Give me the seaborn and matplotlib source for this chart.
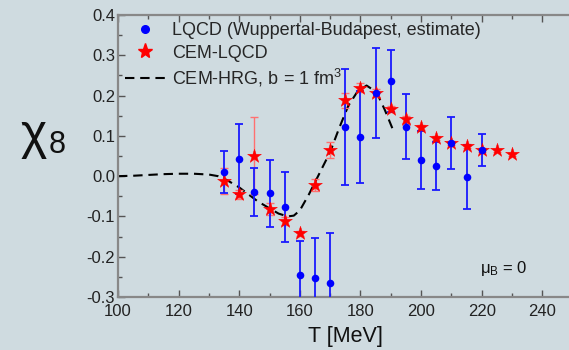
import numpy as np
import pandas as pd
import seaborn as sns
import matplotlib.pyplot as plt
from matplotlib.lines import Line2D
from matplotlib.ticker import MultipleLocator

# LQCD (Wuppertal-Budapest, estimate)
lqcd_T = [135, 140, 145, 150, 155, 160, 165, 170, 175, 180, 185, 190, 195, 200, 205, 210, 215, 220]
lqcd_chi8 = [0.010, 0.043, -0.040, -0.042, -0.076, -0.245, -0.252, -0.264, 0.122, 0.097, 0.206, 0.237,
             0.123, 0.040, 0.025, 0.082, -0.002, 0.064]
lqcd_err = [0.052, 0.087, 0.060, 0.083, 0.087, 0.085, 0.098, 0.124, 0.145, 0.114, 0.112, 0.077,
            0.080, 0.071, 0.060, 0.064, 0.080, 0.040]

# CEM-LQCD
cem_T = [135, 140, 145, 150, 155, 160, 165, 170, 175, 180, 185, 190, 195, 200, 205, 210, 215, 220, 225, 230]
cem_chi8 = [-0.012, -0.045, 0.051, -0.081, -0.112, -0.142, -0.022, 0.065, 0.188, 0.220, 0.206, 0.167,
            0.141, 0.121, 0.095, 0.082, 0.075, 0.064, 0.064, 0.054]
cem_err = [0.032, 0.011, 0.095, 0.015, 0.010, 0.006, 0.015, 0.019, 0.019, 0.010, 0.010, 0.008,
           0.008, 0.006, 0.005, 0.005, 0.005, 0.005, 0.003, 0.003]

# CEM-HRG, b = 1 fm^3
hrg_T = [100, 105, 110, 115, 120, 125, 130, 133, 136, 140, 143, 146, 150, 153, 156, 158, 160, 163,
         166, 170, 173, 176, 179, 182, 184, 186, 188, 191]
hrg_chi8 = [0.0, 0.001, 0.003, 0.005, 0.006, 0.006, 0.004, 0.0, -0.010, -0.028, -0.045, -0.062, -0.080,
            -0.093, -0.100, -0.098, -0.085, -0.045, 0.0, 0.060, 0.120, 0.175, 0.210, 0.225, 0.215,
            0.197, 0.165, 0.110]

bg = '#cfdbe0'
sns.set_theme(style='ticks', rc={'figure.facecolor': bg, 'axes.facecolor': bg})
plt.rcParams['font.family'] = ['Liberation Sans', 'DejaVu Sans']
plt.rcParams['mathtext.fontset'] = 'custom'
plt.rcParams['mathtext.rm'] = 'Liberation Sans'
plt.rcParams['mathtext.it'] = 'Liberation Sans:italic'

fig = plt.figure(figsize=(5.69, 3.5), dpi=100)
ax = fig.add_axes([0.2074, 0.1514, 0.799, 0.8057])

dash = (0, (4.5, 2.8))
hrg_df = pd.DataFrame({'T': hrg_T, 'chi8': hrg_chi8})
sns.lineplot(data=hrg_df, x='T', y='chi8', ax=ax, color='black', lw=1.5,
             dashes=False, linestyle=dash, zorder=2)

# error bars (seaborn can't take given errors)
ax.errorbar(cem_T, cem_chi8, yerr=cem_err, fmt='none', ecolor='#ff7070', elinewidth=1.0,
            capsize=3, capthick=1.0, zorder=3)
ax.errorbar(lqcd_T, lqcd_chi8, yerr=lqcd_err, fmt='none', ecolor='#1a1aff', elinewidth=1.3,
            capsize=3, capthick=1.3, zorder=4)

cem_df = pd.DataFrame({'T': cem_T, 'chi8': cem_chi8})
lqcd_df = pd.DataFrame({'T': lqcd_T, 'chi8': lqcd_chi8})
sns.scatterplot(data=cem_df, x='T', y='chi8', ax=ax, marker='*', s=110, color='#ff0000',
                edgecolor='#ff0000', linewidth=0.3, zorder=5)
sns.scatterplot(data=lqcd_df, x='T', y='chi8', ax=ax, marker='o', s=30, color='#0000ff',
                edgecolor='#0000ff', linewidth=0, zorder=6)

ax.set_xlim(100, 250)
ax.set_ylim(-0.3, 0.4)
ax.xaxis.set_major_locator(MultipleLocator(20))
ax.xaxis.set_minor_locator(MultipleLocator(10))
ax.yaxis.set_major_locator(MultipleLocator(0.1))
ax.yaxis.set_minor_locator(MultipleLocator(0.05))
ax.yaxis.set_major_formatter(plt.FuncFormatter(lambda v, p: f'{v:.1f}'))
ax.tick_params(which='both', direction='in', top=True, right=False, colors='#555555',
               labelcolor='#222222', labelsize=12, width=1.0)
ax.tick_params(which='major', length=5)
ax.tick_params(which='minor', length=3)
ax.tick_params(axis='y', pad=2)
ax.tick_params(axis='x', pad=5)
for s in ax.spines.values():
    s.set_color('#888888')
    s.set_linewidth(1.6)

ax.set_xlabel('T [MeV]', fontsize=15.5, color='#111111', labelpad=5)
ax.set_ylabel('')

handles = [
    Line2D([], [], marker='o', color='#0000ff', ls='none', markersize=5.5),
    Line2D([], [], marker='*', color='#ff0000', ls='none', markersize=11),
    Line2D([], [], color='black', lw=1.5, ls=dash),
]
labels = ['LQCD (Wuppertal-Budapest, estimate)', 'CEM-LQCD', 'CEM-HRG, b = 1 fm$^3$']
ax.legend(handles, labels, loc='upper left', frameon=False, fontsize=13,
          handlelength=2.2, handletextpad=0.4, borderaxespad=0.2, labelspacing=0.3,
          borderpad=0.2)

ax.text(219.5, -0.228, 'μ$_\\mathrm{B}$ = 0', fontsize=12, color='#111111', va='center')

fig.text(0.036, 0.612, 'χ', fontsize=36, color='#111111', va='center')
fig.text(0.085, 0.585, '8', fontsize=22, color='#111111', va='center')

fig.savefig('out.png', dpi=100, facecolor=bg)
